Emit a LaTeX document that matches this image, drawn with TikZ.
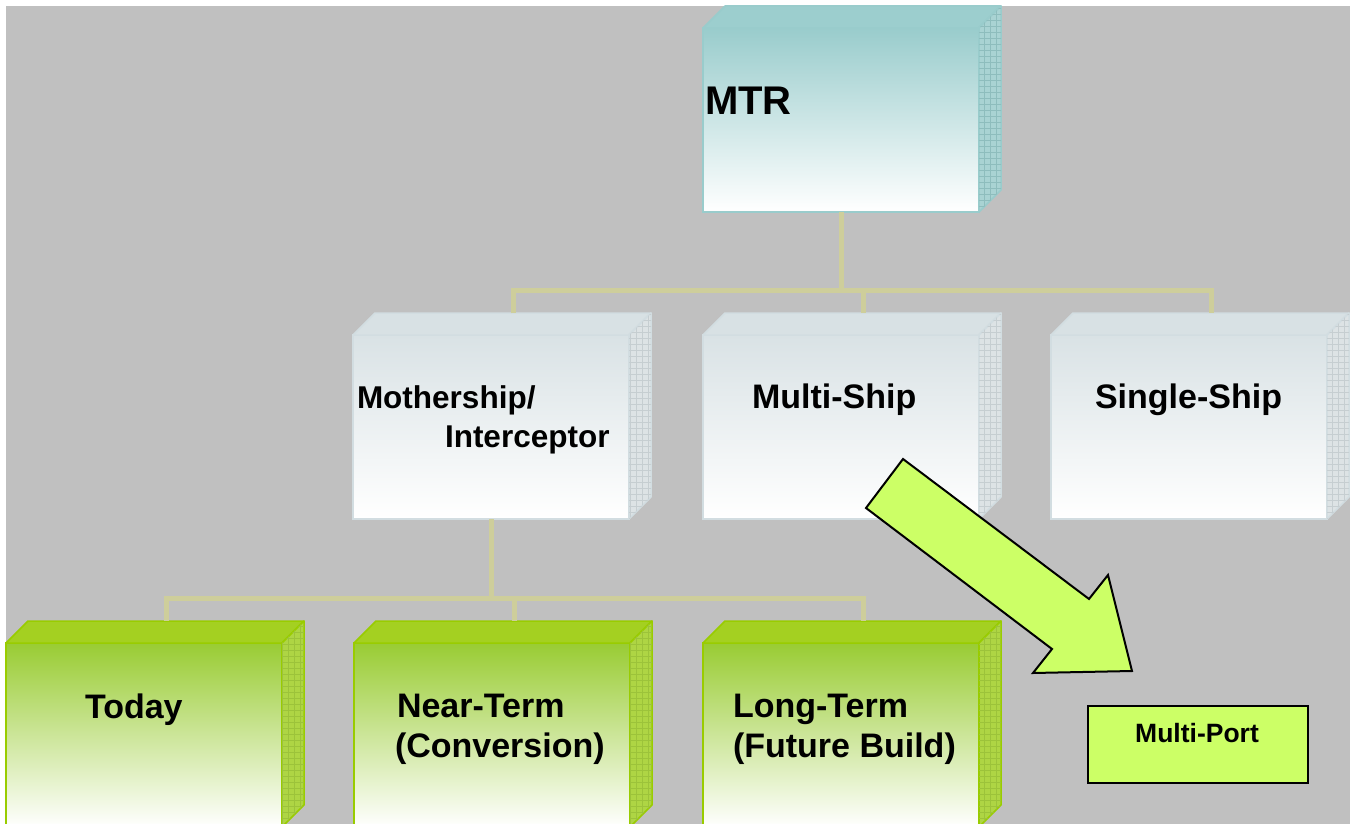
\documentclass[tikz,border=0pt]{standalone}
\usepackage{fontspec}
\setmainfont{Liberation Sans}
\usetikzlibrary{calc,patterns.meta}

% palette
\definecolor{paper}{HTML}{C0C0C0}
\definecolor{wire}{HTML}{CECE9B}
\definecolor{tealtop}{HTML}{99CCCC}
\definecolor{tealedge}{HTML}{99CCCC}
\definecolor{tealcap}{HTML}{9CCECE}
\definecolor{tealside}{HTML}{A9D3D3}
\definecolor{tealgrid}{HTML}{8EBDBD}
\definecolor{misttop}{HTML}{D9E2E5}
\definecolor{mistedge}{HTML}{D2DDE1}
\definecolor{mistcap}{HTML}{D8E1E4}
\definecolor{mistside}{HTML}{DDE3E5}
\definecolor{mistgrid}{HTML}{C6CED1}
\definecolor{leaftop}{HTML}{99CC33}
\definecolor{leafedge}{HTML}{99CC00}
\definecolor{leafcap}{HTML}{A4D021}
\definecolor{leafside}{HTML}{AED544}
\definecolor{leafgrid}{HTML}{9CC33A}
\definecolor{lime}{HTML}{CCFF66}

\tikzset{
  face/.style={line width=1.5pt, minimum width=276pt, minimum height=184pt,
    inner sep=0pt, outer sep=0pt, anchor=north west},
  tealfront/.style={face, draw=tealedge, top color=tealtop, bottom color=white},
  mistfront/.style={face, draw=mistedge, top color=misttop, bottom color=white},
  leaffront/.style={face, draw=leafedge, top color=leaftop,
    middle color=leaftop!28!white, bottom color=white},
  wireline/.style={draw=wire, line width=5pt, line join=miter},
  caption/.style={font=\bfseries\fontsize{34}{40}\selectfont, anchor=base west,
    inner sep=0pt, outer sep=0pt},
  portbox/.style={draw=black, line width=2pt, fill=lime, minimum width=220pt,
    minimum height=77pt, inner sep=0pt, anchor=north west},
}

% a slab: front face node plus its top and right-hand faces
\newcommand\slab[4]{%
  \node[#4front] (#1) at (#2,#3) {};
  \path[fill=#4cap, draw=#4edge, line width=1.5pt, line join=round]
    (#1.north west) -- ++(22,-22) -- ($(#1.north east)+(22,-22)$)
    -- (#1.north east) -- cycle;
  \path[fill=#4side, draw=#4edge, line width=1.5pt, line join=round]
    (#1.north east) -- ++(22,-22) -- ($(#1.south east)+(22,-22)$)
    -- (#1.south east) -- cycle;
  \path[pattern={Hatch[angle=0,distance=6pt,line width=0.5pt]},
    pattern color=#4grid]
    (#1.north east) -- ++(22,-22) -- ($(#1.south east)+(22,-22)$)
    -- (#1.south east) -- cycle;
}

\begin{document}
\begin{tikzpicture}[x=1pt,y=-1pt]
\useasboundingbox (0,0) rectangle (1358,824);
\clip (0,0) rectangle (1358,824);
\fill[white] (0,0) rectangle (1358,824);
\fill[paper] (6,6) rectangle (1350,824);

% slabs
\slab{mtr}{703}{28}{teal}
\slab{moth}{353}{335}{mist}
\slab{multi}{703}{335}{mist}
\slab{single}{1051}{335}{mist}
\slab{today}{6}{643}{leaf}
\slab{near}{354}{643}{leaf}
\slab{long}{703}{643}{leaf}

% tree connectors
\coordinate (busl) at ($(moth.north)+(22,-45)$);
\coordinate (busm) at ($(multi.north)+(22,-45)$);
\coordinate (busr) at ($(single.north)+(22,-45)$);
\draw[wireline] (mtr.south) -- (mtr.south |- busl);
\draw[wireline] ($(moth.north)+(22,-22)$) -- (busl) -- (busr)
  -- ($(single.north)+(22,-22)$);
\draw[wireline] (busm) -- ($(multi.north)+(22,-22)$);

\coordinate (lowl) at ($(today.north)+(22,-45)$);
\coordinate (lowm) at ($(near.north)+(22,-45)$);
\coordinate (lowr) at ($(long.north)+(22,-45)$);
\draw[wireline] (moth.south) -- (moth.south |- lowl);
\draw[wireline] ($(today.north)+(22,-22)$) -- (lowl) -- (lowr)
  -- ($(long.north)+(22,-22)$);
\draw[wireline] (lowm) -- ($(near.north)+(22,-22)$);

% labels
\node[caption, font=\bfseries\fontsize{40}{46}\selectfont] (tmtr) at (705,115) {MTR};
\node[caption, font=\bfseries\fontsize{31.5}{38}\selectfont] (tmoth) at (357,408) {Mothership/};
\node[caption, font=\bfseries\fontsize{31.5}{38}\selectfont] (tint) at (445,447) {Interceptor};
\node[caption] (tmulti) at (752,408) {Multi-Ship};
\node[caption] (tsingle) at (1095,408) {Single-Ship};
\node[caption] (ttoday) at (85,718) {Today};
\node[caption] (tnear) at (397,717) {Near-Term};
\node[caption] (tconv) at (395,757) {(Conversion)};
\node[caption] (tlong) at (733,717) {Long-Term};
\node[caption] (tfut) at (733,757) {(Future Build)};

% multi-port box and block arrow
\node[portbox] (port) at (1087,705) {};
\node[font=\bfseries\fontsize{26.5}{31}\selectfont, anchor=base, inner sep=0pt]
  (tport) at (1197,742) {Multi-Port};
\draw[fill=lime, draw=black, line width=2pt, line join=miter]
  (903,459) -- (1089,599) -- (1108,575) -- (1132,671) -- (1033,673)
  -- (1052,649) -- (866,508) -- cycle;
\end{tikzpicture}
\end{document}
